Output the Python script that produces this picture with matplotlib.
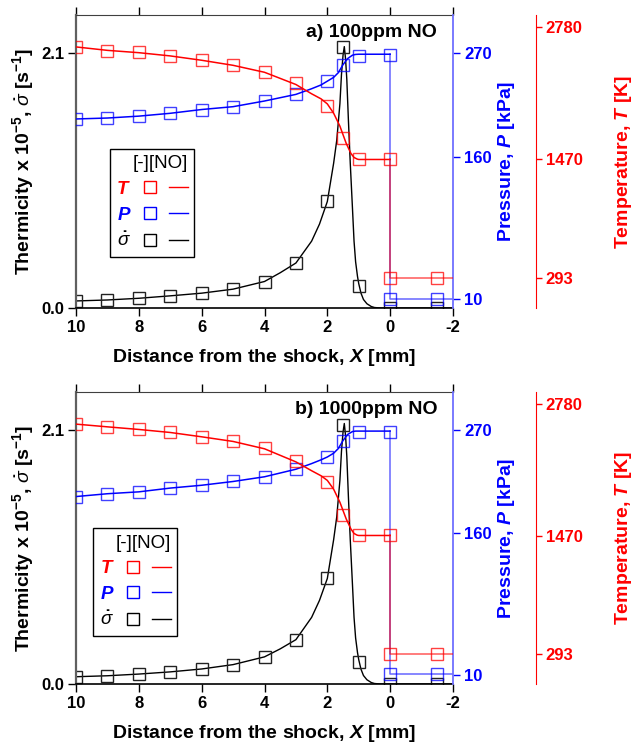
import numpy as np
import matplotlib
matplotlib.use("Agg")
import matplotlib.pyplot as plt
from matplotlib.lines import Line2D
from matplotlib.legend_handler import HandlerTuple

plt.rcParams['font.family'] = 'Liberation Sans'
plt.rcParams['font.weight'] = 'bold'
plt.rcParams['mathtext.fontset'] = 'custom'
plt.rcParams['mathtext.rm'] = 'Liberation Sans:bold'
plt.rcParams['mathtext.it'] = 'Liberation Sans:italic:normal'
plt.rcParams['mathtext.bf'] = 'Liberation Sans:bold'
plt.rcParams['mathtext.bfit'] = 'Liberation Sans:italic:bold'

# ---- data ----
# symbols (x in mm, two points at the shock x=0)
x_pts = [10, 9, 8, 7, 6, 5, 4, 3, 2, 1.5, 1, 0, 0, -1.5]
x_sig_pts = [10, 9, 8, 7, 6, 5, 4, 3, 2, 1.5, 1, 0, -1.5]

# a) 100ppm NO
T_pts_a = [2584, 2547, 2531, 2495, 2452, 2403, 2337, 2224, 2000, 1680, 1472, 1472, 293, 293]
P_pts_a = [200, 201, 203, 206, 210, 213, 219, 226, 240, 257, 267, 268, 10, 10]
s_pts_a = [0.058, 0.066, 0.08, 0.10, 0.12, 0.154, 0.217, 0.368, 0.877, 2.15, 0.184, 0.0, 0.0]

# b) 1000ppm NO
T_pts_b = [2581, 2554, 2528, 2498, 2455, 2409, 2340, 2218, 2010, 1683, 1475, 1475, 293, 293]
P_pts_b = [199, 202, 204, 208, 211, 215, 220, 228, 241, 258, 268, 268, 10.5, 10.5]
s_pts_b = [0.06, 0.068, 0.082, 0.10, 0.123, 0.16, 0.224, 0.366, 0.871, 2.14, 0.183, 0.0, 0.0]

# model curves (last three points = jump at the shock and post-shock state)
x_T_line = [10, 9, 8, 7, 6, 5, 4, 3, 2.5, 2.2, 2.0, 1.8, 1.6, 1.4, 1.25, 1.15, 1.05, 1.0, 0, 0, -2]
T_line_a = [2584, 2550, 2527, 2495, 2452, 2402, 2333, 2212, 2120, 2070, 2020, 1928, 1800, 1630,
            1530, 1490, 1474, 1470, 1470, 293, 293]
T_line_b = [2581, 2554, 2528, 2498, 2455, 2409, 2336, 2206, 2118, 2068, 2022, 1935, 1805, 1640,
            1540, 1495, 1478, 1475, 1475, 293, 293]

x_P_line = [10, 9, 8, 7, 6, 5, 4, 3, 2.5, 2.2, 2.0, 1.8, 1.65, 1.5, 1.35, 1.2, 1.1, 1.0, 0, 0, -2]
P_line_a = [200, 201, 203, 206, 210, 213, 219, 226, 232, 236, 240, 244, 249, 257.5, 264, 267.5,
            268.3, 268.5, 268.5, 10, 10]
P_line_b = [199, 202, 204, 208, 211, 215, 220, 228, 234, 238, 241, 245, 250, 258.5, 265, 268,
            268.5, 268.5, 268.5, 10.5, 10.5]

x_s_line = [10, 9, 8, 7, 6, 5, 4, 3.5, 3, 2.5, 2.25, 2, 1.8, 1.7, 1.6, 1.55, 1.5, 1.46, 1.42,
            1.38, 1.33, 1.27, 1.2, 1.15, 1.1, 1.04, 1.0, 0.93, 0.85, 0.74, 0.6, 0.5, 0.3, 0, -2]
s_line_a = [0.058, 0.066, 0.08, 0.10, 0.122, 0.155, 0.218, 0.29, 0.37, 0.55, 0.69, 0.876, 1.19,
            1.38, 1.68, 1.92, 2.08, 2.15, 2.05, 1.88, 1.55, 1.19, 0.82, 0.55, 0.38, 0.26, 0.2,
            0.123, 0.07, 0.035, 0.012, 0.004, 0.0, 0.0, 0.0]
s_line_b = [0.06, 0.068, 0.082, 0.10, 0.124, 0.16, 0.224, 0.29, 0.366, 0.55, 0.69, 0.871, 1.19,
            1.38, 1.68, 1.92, 2.08, 2.15, 2.05, 1.88, 1.55, 1.19, 0.82, 0.55, 0.38, 0.26, 0.2,
            0.123, 0.07, 0.035, 0.012, 0.004, 0.0, 0.0, 0.0]

P_ticks = [10, 160, 270]
T_ticks = [293, 1470, 2780]
s_ticks = [0.0, 2.1]
x_ticks = [10, 8, 6, 4, 2, 0, -2]

RED = '#ff0000'
BLUE = '#0000ff'


def panel(ax, title, T_pts, P_pts, s_pts, T_line, P_line, s_line, leg_anchor):
    axP = ax.twinx()
    axT = ax.twinx()
    axT.spines['right'].set_position(('axes', 1.22))

    mk = dict(marker='s', ls='none', mfc='none', ms=8, mew=1.0)
    # thermicity
    ax.plot(x_s_line, s_line, color='black', lw=1)
    ax.plot(x_sig_pts, s_pts, mec='#222222', **mk)
    # pressure
    axP.plot(x_P_line[:-2], P_line[:-2], color=BLUE, lw=1.1)
    axP.plot(x_P_line[-3:], P_line[-3:], color=BLUE, lw=1.1, alpha=0.6)
    axP.plot(x_pts, P_pts, mec=BLUE, alpha=0.75, **mk)
    # temperature
    axT.plot(x_T_line[:-2], T_line[:-2], color=RED, lw=1.1)
    axT.plot(x_T_line[-3:], T_line[-3:], color=RED, lw=1.1, alpha=0.65)
    axT.plot(x_pts, T_pts, mec=RED, alpha=0.75, **mk)

    ax.set_xlim(10, -2)
    ax.set_ylim(0, 2.41)
    axP.set_ylim(0, 310)
    axT.set_ylim(0, 2900)

    ax.set_xticks(x_ticks)
    ax.set_xticklabels([str(v) for v in x_ticks])
    ax.set_yticks(s_ticks)
    ax.set_yticklabels(['0.0', '2.1'])
    axP.set_yticks(P_ticks)
    axT.set_yticks(T_ticks)

    ax.tick_params(axis='both', which='major', direction='out', length=5.5, width=1,
                   labelsize=12, pad=3)
    ax.tick_params(axis='x', top=True, labeltop=False)
    axP.tick_params(axis='y', direction='out', length=5, width=1, colors=BLUE,
                    labelsize=12, pad=3)
    axT.tick_params(axis='y', direction='out', length=4, width=1, colors=RED,
                    labelsize=12, pad=3)

    for sp in ['top', 'bottom', 'left']:
        for a in (axP, axT):
            a.spines[sp].set_visible(False)
    axT.spines['right'].set_color(RED)
    axP.spines['right'].set_color('#7070ff')
    axP.spines['right'].set_linewidth(1.3)
    ax.spines['right'].set_visible(False)
    ax.spines['left'].set_color('#606060')
    ax.spines['left'].set_linewidth(1.6)
    ax.spines['top'].set_color('#404040')
    ax.spines['bottom'].set_linewidth(1.2)

    ax.set_xlabel(r'Distance from the shock, $\mathbfit{X}$ [mm]', fontsize=14,
                  fontweight='bold', labelpad=9)
    ax.set_ylabel(r'Thermicity x 10$^{\mathbf{-5}}$, $\dot{\sigma}$ [s$^{\mathbf{-1}}$]',
                  fontsize=14, fontweight='bold', labelpad=4)
    axP.set_ylabel(r'Pressure, $\mathbfit{P}$ [kPa]', fontsize=14, fontweight='bold',
                   color=BLUE, labelpad=3)
    axT.set_ylabel(r'Temperature, $\mathbfit{T}$ [K]', fontsize=14, fontweight='bold',
                   color=RED, labelpad=22)

    ax.text(0.958, 0.94, title, transform=ax.transAxes, ha='right', va='center',
            fontsize=14, fontweight='bold')

    colors = [RED, BLUE, 'black']
    handles = [(Line2D([], [], marker='s', ls='none', mfc='none', mec=c, ms=8, mew=1.0),
                Line2D([], [], color=c, lw=1)) for c in colors]
    labels = [r'$\mathbfit{T}$', r'$\mathbfit{P}$', r'$\dot{\sigma}$']
    leg = axT.legend(handles, labels, handler_map={tuple: HandlerTuple(ndivide=None, pad=0.5)},
                     markerfirst=False, title='[-][NO]', loc='upper left',
                     bbox_to_anchor=leg_anchor, frameon=True, fancybox=False,
                     edgecolor='black', framealpha=1, fontsize=13.5, title_fontsize=13.5,
                     handlelength=2.5, borderaxespad=0, borderpad=0.35, labelspacing=0.45,
                     handletextpad=0.5, alignment='right')
    leg.get_title().set_fontweight('normal')
    leg.get_frame().set_linewidth(1)
    for txt, c in zip(leg.get_texts(), colors):
        txt.set_color(c)


fig = plt.figure(figsize=(6.38, 7.46), dpi=100)
ax1 = fig.add_axes([76 / 638, 1 - 308 / 746, 377 / 638, 293 / 746])
ax2 = fig.add_axes([76 / 638, 1 - 684 / 746, 377 / 638, 292 / 746])

panel(ax1, 'a) 100ppm NO', T_pts_a, P_pts_a, s_pts_a, T_line_a, P_line_a, s_line_a, (0.09, 0.543))
panel(ax2, 'b) 1000ppm NO', T_pts_b, P_pts_b, s_pts_b, T_line_b, P_line_b, s_line_b, (0.045, 0.534))

fig.savefig('out.png', dpi=100)
